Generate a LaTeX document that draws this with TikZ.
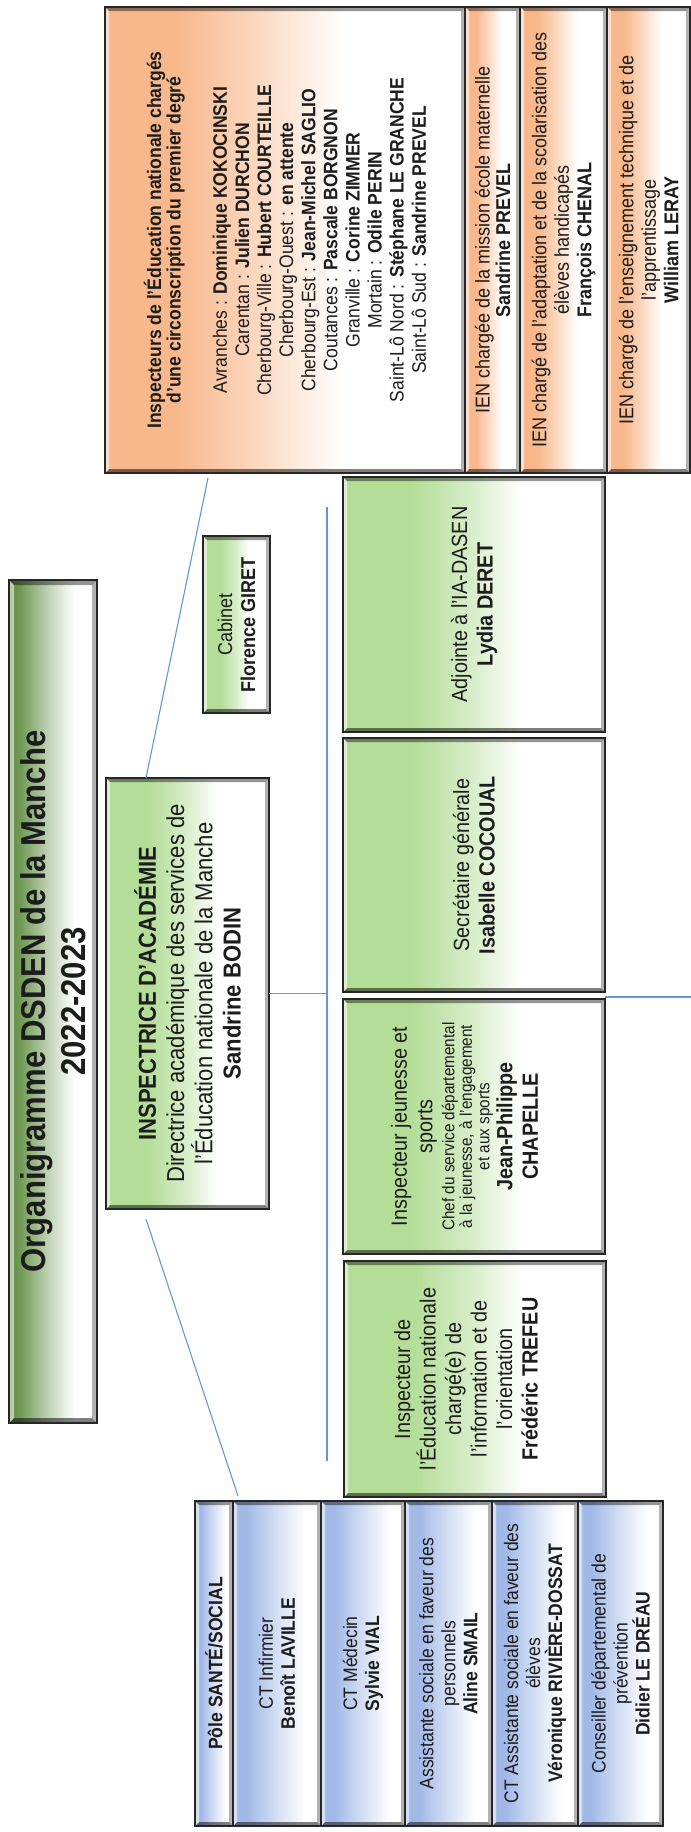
\documentclass[tikz,border=0pt]{standalone}
\usepackage{fontspec}
\setmainfont[FakeStretch=0.9]{Liberation Sans}
\usepackage{graphicx}
\usetikzlibrary{calc}
\definecolor{gB}{RGB}{180,221,152}
\definecolor{gT}{RGB}{96,142,66}
\definecolor{oB}{RGB}{248,184,140}
\definecolor{bB}{RGB}{162,185,231}
\definecolor{lineblue}{RGB}{96,152,214}
\definecolor{txt}{RGB}{28,28,28}
\pgfdeclarehorizontalshading{gshade}{100bp}{color(0bp)=(gB); color(25bp)=(gB); color(38bp)=(gB); color(49bp)=(gB!55!white); color(59bp)=(white); color(100bp)=(white)}
\pgfdeclarehorizontalshading{tshade}{100bp}{color(0bp)=(gT); color(25bp)=(gT); color(31bp)=(gT!90!white); color(47bp)=(gT!40!white); color(62bp)=(white); color(100bp)=(white)}
\pgfdeclarehorizontalshading{oshade}{100bp}{color(0bp)=(oB); color(25bp)=(oB); color(35bp)=(oB); color(46bp)=(oB!55!white); color(58bp)=(white); color(100bp)=(white)}
\pgfdeclarehorizontalshading{bshade}{100bp}{color(0bp)=(bB); color(25bp)=(bB); color(33bp)=(bB); color(50bp)=(bB!45!white); color(66bp)=(white); color(100bp)=(white)}
\newcommand{\vtext}[2]{\rotatebox{90}{\parbox{#1pt}{\centering #2}}}
\tikzset{
  bevel/.style={path picture={
    \fill[black,opacity=.42] (path picture bounding box.north west) -- (path picture bounding box.north east) -- ([shift={(-#1,#1)}]path picture bounding box.north east) -- ([shift={(#1,#1)}]path picture bounding box.north west) -- cycle;
    \fill[black,opacity=.5] (path picture bounding box.south west) -- (path picture bounding box.south east) -- ([shift={(-#1,-#1)}]path picture bounding box.south east) -- ([shift={(#1,-#1)}]path picture bounding box.south west) -- cycle;
    \fill[black,opacity=.3] (path picture bounding box.north east) -- (path picture bounding box.south east) -- ([shift={(-#1,-#1)}]path picture bounding box.south east) -- ([shift={(-#1,#1)}]path picture bounding box.north east) -- cycle;
    \fill[white,opacity=.55] (path picture bounding box.north west) -- (path picture bounding box.south west) -- ([shift={(#1,-#1)}]path picture bounding box.south west) -- ([shift={(#1,#1)}]path picture bounding box.north west) -- cycle;
  }},
  box/.style={draw=black!85, line width=1.6pt, inner sep=0pt, outer sep=0pt, text=txt, bevel=4},
  gbox/.style={box, shade, shading=gshade, font=\fontsize{22}{25.5}\selectfont},
  obox/.style={box, shade, shading=oshade, font=\fontsize{19.5}{22.1}\selectfont},
  bbox/.style={box, shade, shading=bshade, font=\fontsize{19.5}{22}\selectfont, minimum height=325},
  conn/.style={draw=lineblue, line width=1.1pt},
}
\begin{document}
\begin{tikzpicture}[x=1pt,y=-1pt]
\useasboundingbox (0,0) rectangle (691,1832);

% title
\node[box, shade, shading=tshade, bevel=5, minimum width=88, minimum height=843, font=\fontsize{34.5}{39.5}\selectfont\bfseries] (title) at (53,1001.5)
  {\vtext{830}{Organigramme DSDEN de la Manche\\2022-2023}};

% IA-DASEN
\node[gbox, minimum width=163, minimum height=431, font=\fontsize{24.5}{28.3}\selectfont] (ia) at (187.5,993.5)
  {\vtext{421}{\textbf{INSPECTRICE D’ACADÉMIE}\\Directrice académique des services de\\l’Éducation nationale de la Manche\\\textbf{Sandrine BODIN}}};

% Cabinet
\node[gbox, minimum width=67, minimum height=177, font=\fontsize{20}{23}\selectfont] (cab) at (236.5,624.5)
  {\vtext{168}{Cabinet\\\textbf{Florence GIRET}}};

% orange column
\node[obox, minimum width=360, minimum height=466] (circ) at (285,240)
  {\vtext{452}{{\fontsize{19.5}{19.4}\selectfont\bfseries Inspecteurs de l’Éducation nationale chargés\\d’une circonscription du premier degré\par}\vspace{24.2pt}
  Avranches : \textbf{Dominique KOKOCINSKI}\\
  Carentan : \textbf{Julien DURCHON}\\
  Cherbourg-Ville : \textbf{Hubert COURTEILLE}\\
  Cherbourg-Ouest : \textbf{en attente}\\
  Cherbourg-Est : \textbf{Jean-Michel SAGLIO}\\
  Coutances : \textbf{Pascale BORGNON}\\
  Granville : \textbf{Corine ZIMMER}\\
  Mortain : \textbf{Odile PERIN}\\
  Saint-Lô Nord : \textbf{Stéphane LE GRANCHE}\\
  Saint-Lô Sud : \textbf{Sandrine PREVEL}}};
\node[obox, minimum width=55, minimum height=466, font=\fontsize{20}{20.5}\selectfont] (ien1) at (492.5,240)
  {\vtext{456}{IEN chargée de la mission école maternelle\\\textbf{Sandrine PREVEL}}};
\node[obox, minimum width=87, minimum height=466, font=\fontsize{20}{22.5}\selectfont] (ien2) at (563.5,240)
  {\vtext{456}{IEN chargé de l'adaptation et de la scolarisation des\\élèves handicapés\\\textbf{François CHENAL}}};
\node[obox, minimum width=83, minimum height=466, font=\fontsize{20}{22.5}\selectfont] (ien3) at (648.5,240)
  {\vtext{456}{IEN chargé de l'enseignement technique et de\\l'apprentissage\\\textbf{William LERAY}}};

% green column
\node[gbox, minimum width=262, minimum height=255] (adj) at (474,604.5)
  {\vtext{245}{Adjointe à l'IA-DASEN\\\textbf{Lydia DERET}}};
\node[gbox, minimum width=262, minimum height=254] (secr) at (474,865)
  {\vtext{245}{Secrétaire générale\\\textbf{Isabelle COCOUAL}}};
\node[gbox, minimum width=262, minimum height=255] (js) at (474,1126.5)
  {\vtext{245}{Inspecteur jeunesse et\\sports\par
   {\fontsize{17}{17.5}\selectfont\vspace{4.5pt}Chef du service départemental\\à la jeunesse, à l'engagement\\et aux sports\par}
   {\bfseries\vspace{-2.5pt}Jean-Philippe\\CHAPELLE\par}\vspace{19pt}}};
\node[gbox, minimum width=262, minimum height=236] (ienio) at (475,1379)
  {\vtext{226}{Inspecteur de\\l’Éducation nationale\\chargé(e) de\\l’information et de\\l’orientation\\\textbf{Frédéric TREFEU}\par\vspace{18pt}}};

% santé / social
\node[bbox, minimum width=38] (pole) at (214,1663.5)
  {\vtext{315}{\textbf{Pôle SANTÉ/SOCIAL}}};
\node[bbox, minimum width=88] (ctinf) at (277,1663.5)
  {\vtext{315}{CT Infirmier\\\textbf{Benoît LAVILLE}}};
\node[bbox, minimum width=84] (ctmed) at (363,1663.5)
  {\vtext{315}{CT Médecin\\\textbf{Sylvie VIAL}}};
\node[bbox, minimum width=87] (asp) at (448.5,1663.5)
  {\vtext{315}{Assistante sociale en faveur des\\personnels\\\textbf{Aline SMAIL}}};
\node[bbox, minimum width=86] (ase) at (535,1663.5)
  {\vtext{315}{CT Assistante sociale en faveur des\\élèves\\\textbf{Véronique RIVIÈRE-DOSSAT}}};
\node[bbox, minimum width=85] (cdp) at (620.5,1663.5)
  {\vtext{315}{Conseiller départemental de\\prévention\\\textbf{Didier LE DRÉAU}}};

% connectors
\coordinate (vtop) at (327,507);
\coordinate (vbot) at (327,1461);
\coordinate (redge) at (691,997);
\draw[conn] (vtop) -- (vbot);
\draw[conn] (ia.east) -- (ia.east -| vtop);
\draw[conn] ([shift={(0,5)}]secr.south east) -- (redge);
\draw[conn] ([shift={(40,0)}]ia.north west) -- ([shift={(103,5)}]circ.south west);
\draw[conn] ([shift={(40,10)}]ia.south west) -- ([shift={(5,-5)}]ctinf.north west);
\end{tikzpicture}
\end{document}
